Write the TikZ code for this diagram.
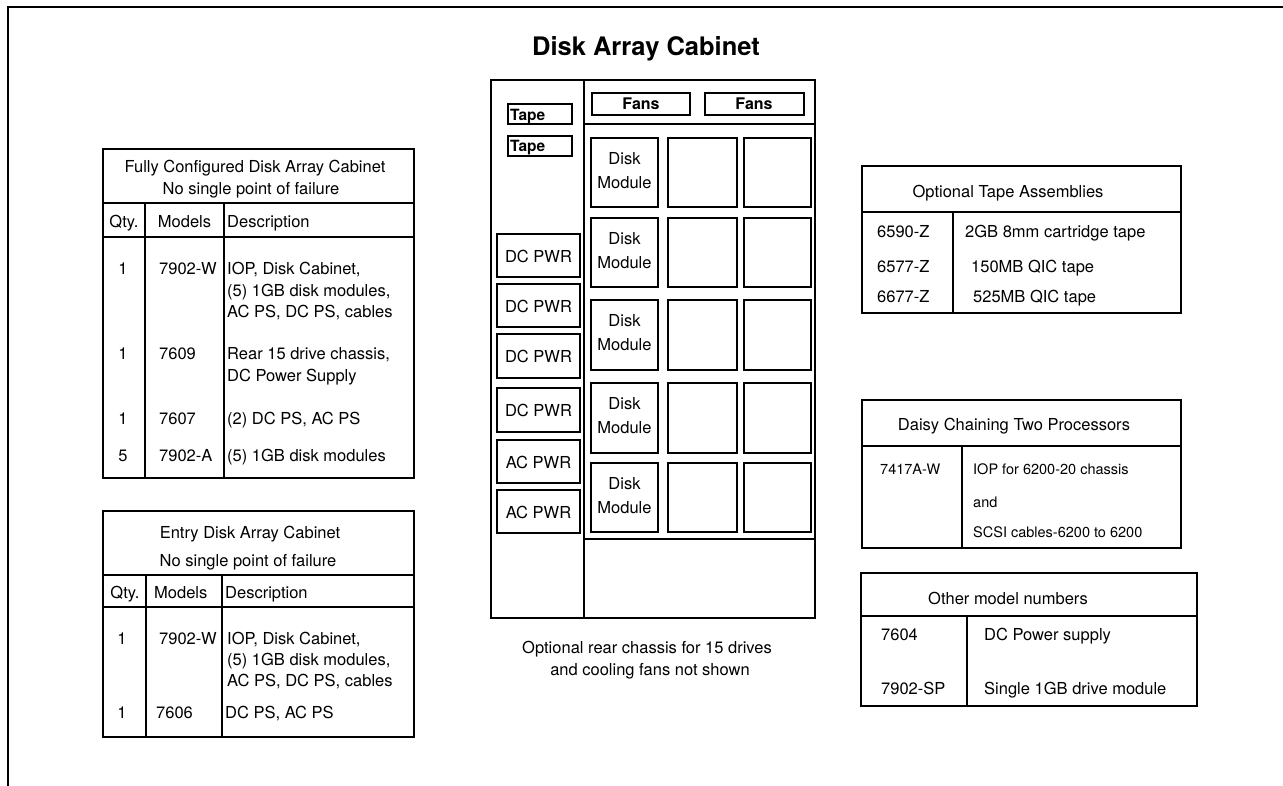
\documentclass[tikz,border=0pt]{standalone}
\usepackage{fontspec}
\setmainfont{TeX Gyre Heros}
\begin{document}
\begin{tikzpicture}[x=1pt,y=-1pt,
  frame/.style={line width=1.5pt, line cap=rect},
  t/.style={inner sep=0pt, yshift=-4pt, font=\fontsize{16.5}{22}\selectfont},
  ts/.style={inner sep=0pt, yshift=-4pt, font=\fontsize{14.5}{18}\selectfont},
  tb/.style={inner sep=0pt, yshift=-4pt, font=\bfseries\fontsize{16}{20}\selectfont},
  tapetxt/.style={inner sep=0pt, font=\bfseries\fontsize{15.5}{20}\selectfont},
  dmtxt/.style={inner sep=0pt, font=\fontsize{16.5}{24}\selectfont},
  ttl/.style={inner sep=0pt, yshift=-6pt, font=\bfseries\fontsize{25.5}{30}\selectfont}]
\useasboundingbox (0,0) rectangle (1283,786);
% outer border
\draw[frame] (8,786) -- (8,7) -- (1283,7);

% title
\node[ttl, anchor=mid] (title) at (646,47) {Disk Array Cabinet};

% cabinet
\draw[frame] (491,80) rectangle (815,618);
\draw[frame] (584,80) -- (584,618);
\draw[frame] (584,124) -- (815,124);
\draw[frame] (584,539) -- (815,539);
% fans
\draw[frame] (592,93) rectangle (690,115);
\draw[frame] (705,93) rectangle (804,115);
\node[tb, anchor=mid] (fans1) at (641,103) {Fans};
\node[tb, anchor=mid] (fans2) at (754,103) {Fans};
% tapes
\draw[frame] (508,104) rectangle (572,124);
\draw[frame] (508,136) rectangle (572,156);
\node[tapetxt, anchor=base west] (tape1) at (510,121) {Tape};
\node[tapetxt, anchor=base west] (tape2) at (510,152) {Tape};
% power supplies
\foreach \a/\b/\lbl [count=\i] in {234/277/DC PWR, 284/327/DC PWR, 334/378/DC PWR, 388/432/DC PWR, 440/483/AC PWR, 490/533/AC PWR}{
  \draw[frame] (497,\a) rectangle (580,\b);
  \node[t, anchor=mid] (pwr\i) at (538.5,{(\a+\b)/2}) {\lbl};
}
% disk modules
\foreach \a/\b [count=\i] in {138/207, 218/287, 300/370, 383/453, 463/532}{
  \draw[frame] (591,\a) rectangle (658,\b);
  \draw[frame] (668,\a) rectangle (737,\b);
  \draw[frame] (744,\a) rectangle (811,\b);
  \node[dmtxt, align=center, anchor=center] (dm\i) at (624.5,{(\a+\b)/2-2}) {Disk\\Module};
}
% caption
\node[t, anchor=mid] (cap1) at (647,647) {Optional rear chassis for 15 drives};
\node[t, anchor=mid] (cap2) at (650,669) {and cooling fans not shown};

% left table 1
\draw[frame] (103,149) rectangle (414,478);
\draw[frame] (103,203) -- (414,203);
\draw[frame] (103,237) -- (414,237);
\draw[frame] (145,203) -- (145,478);
\draw[frame] (224,203) -- (224,478);
\node[t, anchor=mid] (fa1) at (255,166) {Fully Configured Disk Array Cabinet};
\node[t, anchor=mid] (fa2) at (251,188) {No single point of failure};
\node[t, anchor=mid] (fqh) at (124,221) {Qty.};
\node[t, anchor=mid] (fmh) at (184.5,221) {Models};
\node[t, anchor=mid west] (fdh) at (227,221) {Description};
\node[t, anchor=mid] (fq1) at (123,268) {1};
\node[t, anchor=mid west] (fm1) at (159,268) {7902-W};
\node[t, anchor=mid west] (fd1a) at (227,268) {IOP, Disk Cabinet,};
\node[t, anchor=mid west] (fd1b) at (227,290) {(5) 1GB disk modules,};
\node[t, anchor=mid west] (fd1c) at (227,311) {AC PS, DC PS, cables};
\node[t, anchor=mid] (fq2) at (123,353) {1};
\node[t, anchor=mid west] (fm2) at (159,353) {7609};
\node[t, anchor=mid west] (fd2a) at (227,353) {Rear 15 drive chassis,};
\node[t, anchor=mid west] (fd2b) at (227,375) {DC Power Supply};
\node[t, anchor=mid] (fq3) at (123,418) {1};
\node[t, anchor=mid west] (fm3) at (159,418) {7607};
\node[t, anchor=mid west] (fd3) at (227,418) {(2) DC PS, AC PS};
\node[t, anchor=mid] (fq4) at (123,455) {5};
\node[t, anchor=mid west] (fm4) at (159,455) {7902-A};
\node[t, anchor=mid west] (fd4) at (227,455) {(5) 1GB disk modules};

% left table 2
\draw[frame] (103,511) rectangle (414,737);
\draw[frame] (103,575) -- (414,575);
\draw[frame] (103,607) -- (414,607);
\draw[frame] (146,575) -- (146,737);
\draw[frame] (222,575) -- (222,737);
\node[t, anchor=mid] (ea1) at (250,532) {Entry Disk Array Cabinet};
\node[t, anchor=mid] (ea2) at (248,560) {No single point of failure};
\node[t, anchor=mid] (eqh) at (125,592) {Qty.};
\node[t, anchor=mid west] (emh) at (154,592) {Models};
\node[t, anchor=mid west] (edh) at (225,592) {Description};
\node[t, anchor=mid] (eq1) at (122,638) {1};
\node[t, anchor=mid west] (em1) at (159,638) {7902-W};
\node[t, anchor=mid west] (ed1a) at (227,638) {IOP, Disk Cabinet,};
\node[t, anchor=mid west] (ed1b) at (227,659) {(5) 1GB disk modules,};
\node[t, anchor=mid west] (ed1c) at (227,680) {AC PS, DC PS, cables};
\node[t, anchor=mid] (eq2) at (122,712) {1};
\node[t, anchor=mid west] (em2) at (156,712) {7606};
\node[t, anchor=mid west] (ed2) at (225,712) {DC PS, AC PS};

% right table 1
\draw[frame] (862,166) rectangle (1181,313);
\draw[frame] (862,212) -- (1181,212);
\draw[frame] (953,212) -- (953,313);
\node[t, anchor=mid] (ot) at (1008,191) {Optional Tape Assemblies};
\node[t, anchor=mid west] (om1) at (877,231) {6590-Z};
\node[t, anchor=mid west] (od1) at (965,231) {2GB 8mm cartridge tape};
\node[t, anchor=mid west] (om2) at (877,266) {6577-Z};
\node[t, anchor=mid west] (od2) at (971,266) {150MB QIC tape};
\node[t, anchor=mid west] (om3) at (877,296) {6677-Z};
\node[t, anchor=mid west] (od3) at (973,296) {525MB QIC tape};

% right table 2
\draw[frame] (862,400) rectangle (1181,548);
\draw[frame] (862,446) -- (1181,446);
\draw[frame] (962,446) -- (962,548);
\node[t, anchor=mid] (dt) at (1014,424) {Daisy Chaining Two Processors};
\node[ts, anchor=mid west] (dm) at (880,468) {7417A-W};
\node[ts, anchor=mid west] (dd1) at (973,468) {IOP for 6200-20 chassis};
\node[ts, anchor=mid west] (dd2) at (973,501) {and};
\node[ts, anchor=mid west] (dd3) at (973,531) {SCSI cables-6200 to 6200};

% right table 3
\draw[frame] (861,573) rectangle (1197,706);
\draw[frame] (861,616) -- (1197,616);
\draw[frame] (967,616) -- (967,706);
\node[t, anchor=mid] (mt) at (1008,598) {Other model numbers};
\node[t, anchor=mid west] (mm1) at (881,634) {7604};
\node[t, anchor=mid west] (md1) at (984,634) {DC Power supply};
\node[t, anchor=mid west] (mm2) at (881,688) {7902-SP};
\node[t, anchor=mid west] (md2) at (984,688) {Single 1GB drive module};
\end{tikzpicture}
\end{document}
